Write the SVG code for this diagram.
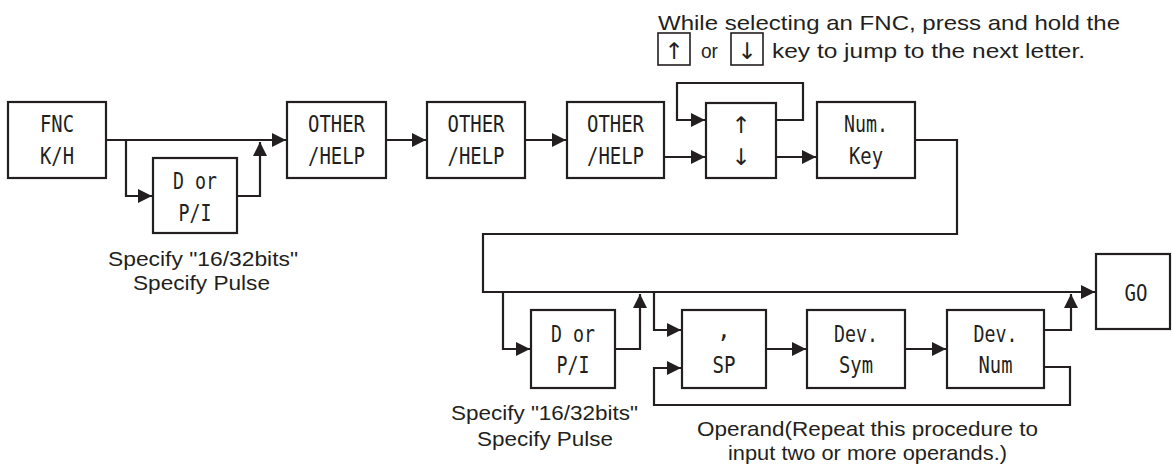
<svg xmlns="http://www.w3.org/2000/svg" width="1172" height="467" viewBox="0 0 1172 467">
<style>
.box{fill:#fff;stroke:#231f20;stroke-width:2.2}
.bt{font-family:"DejaVu Sans Mono","Liberation Mono",monospace;font-size:23px;fill:#231f20;text-anchor:middle}
.an{font-family:"Liberation Sans",Arial,sans-serif;font-size:21px;fill:#231f20}
.c{fill:none;stroke:#231f20;stroke-width:2.2}
.k{fill:#fff;stroke:#231f20;stroke-width:1.6}
.ar{font-family:"DejaVu Sans",sans-serif;font-size:23px;fill:#231f20;text-anchor:middle}
</style>
<defs>
<marker id="ah" markerUnits="userSpaceOnUse" markerWidth="15" markerHeight="15" refX="14" refY="7" orient="auto">
<path d="M0,0 L14,7 L0,14 z" fill="#231f20"/>
</marker>
</defs>
<rect width="1172" height="467" fill="#fff"/>
<g id="connectors">
<path class="c" d="M106,140 H286" marker-end="url(#ah)"/>
<path class="c" d="M126,140 V196 H152" marker-end="url(#ah)"/>
<path class="c" d="M237,196 H260 V142" marker-end="url(#ah)"/>
<path class="c" d="M386,140 H426" marker-end="url(#ah)"/>
<path class="c" d="M525,140 H566" marker-end="url(#ah)"/>
<path class="c" d="M664,157 H705" marker-end="url(#ah)"/>
<path class="c" d="M776,120 H803 V83 H677 V120 H705" marker-end="url(#ah)"/>
<path class="c" d="M776,157 H816" marker-end="url(#ah)"/>
<path class="c" d="M915,140 H957 V234 H483 V292 H1095" marker-end="url(#ah)"/>
<path class="c" d="M503,292 V349 H530" marker-end="url(#ah)"/>
<path class="c" d="M615,349 H640 V294" marker-end="url(#ah)"/>
<path class="c" d="M654,292 V330 H681" marker-end="url(#ah)"/>
<path class="c" d="M766,349 H806" marker-end="url(#ah)"/>
<path class="c" d="M905,349 H946" marker-end="url(#ah)"/>
<path class="c" d="M1044,330 H1071 V294" marker-end="url(#ah)"/>
<path class="c" d="M1044,367 H1070 V405 H654 V368 H681" marker-end="url(#ah)"/>
</g>
<g id="fnc">
<rect class="box" x="8" y="102" width="98" height="76"/>
<text class="bt" x="57" y="132" textLength="34" lengthAdjust="spacingAndGlyphs">FNC</text>
<text class="bt" x="57" y="164" textLength="34" lengthAdjust="spacingAndGlyphs">K/H</text>
</g>
<g id="dorpi1">
<rect class="box" x="153" y="158" width="84" height="75"/>
<text class="bt" x="195" y="189" textLength="44" lengthAdjust="spacingAndGlyphs">D or</text>
<text class="bt" x="195" y="221" textLength="33" lengthAdjust="spacingAndGlyphs">P/I</text>
</g>
<g id="other1">
<rect class="box" x="287" y="102" width="99" height="76"/>
<text class="bt" x="336.5" y="132" textLength="57" lengthAdjust="spacingAndGlyphs">OTHER</text>
<text class="bt" x="336.5" y="164" textLength="57" lengthAdjust="spacingAndGlyphs">/HELP</text>
</g>
<g id="other2">
<rect class="box" x="427" y="102" width="98" height="76"/>
<text class="bt" x="476" y="132" textLength="57" lengthAdjust="spacingAndGlyphs">OTHER</text>
<text class="bt" x="476" y="164" textLength="57" lengthAdjust="spacingAndGlyphs">/HELP</text>
</g>
<g id="other3">
<rect class="box" x="567" y="102" width="97" height="76"/>
<text class="bt" x="615.5" y="132" textLength="57" lengthAdjust="spacingAndGlyphs">OTHER</text>
<text class="bt" x="615.5" y="164" textLength="57" lengthAdjust="spacingAndGlyphs">/HELP</text>
</g>
<g id="updown">
<rect class="box" x="706" y="103" width="70" height="75"/>
<text class="ar" x="741" y="133">↑</text>
<text class="ar" x="741" y="165">↓</text>
</g>
<g id="numkey">
<rect class="box" x="817" y="102" width="98" height="76"/>
<text class="bt" x="866" y="132" textLength="44" lengthAdjust="spacingAndGlyphs">Num.</text>
<text class="bt" x="866" y="164" textLength="34" lengthAdjust="spacingAndGlyphs">Key</text>
</g>
<g id="dorpi2">
<rect class="box" x="531" y="310" width="84" height="78"/>
<text class="bt" x="573" y="342" textLength="44" lengthAdjust="spacingAndGlyphs">D or</text>
<text class="bt" x="573" y="373" textLength="33" lengthAdjust="spacingAndGlyphs">P/I</text>
</g>
<g id="sp">
<rect class="box" x="682" y="310" width="84" height="78"/>
<text class="bt" x="724" y="338">,</text>
<text class="bt" x="724" y="373" textLength="23" lengthAdjust="spacingAndGlyphs">SP</text>
</g>
<g id="devsym">
<rect class="box" x="807" y="310" width="98" height="78"/>
<text class="bt" x="856" y="342" textLength="44" lengthAdjust="spacingAndGlyphs">Dev.</text>
<text class="bt" x="856" y="373" textLength="34" lengthAdjust="spacingAndGlyphs">Sym</text>
</g>
<g id="devnum">
<rect class="box" x="947" y="310" width="97" height="78"/>
<text class="bt" x="995.5" y="342" textLength="44" lengthAdjust="spacingAndGlyphs">Dev.</text>
<text class="bt" x="995.5" y="373" textLength="34" lengthAdjust="spacingAndGlyphs">Num</text>
</g>
<g id="go">
<rect class="box" x="1096" y="254" width="74" height="75"/>
<text class="bt" x="1136" y="301" textLength="23" lengthAdjust="spacingAndGlyphs">GO</text>
</g>
<g id="notes">
<text class="an" x="658" y="30" textLength="462" lengthAdjust="spacingAndGlyphs">While selecting an FNC, press and hold the</text>
<rect class="k" x="658" y="33" width="32" height="32"/>
<text class="ar" x="674" y="59">↑</text>
<text class="an" x="701" y="58" textLength="17" lengthAdjust="spacingAndGlyphs">or</text>
<rect class="k" x="731" y="33" width="32" height="32"/>
<text class="ar" x="747" y="59">↓</text>
<text class="an" x="772" y="58" textLength="313" lengthAdjust="spacingAndGlyphs">key to jump to the next letter.</text>
<text class="an" x="108" y="266" textLength="190" lengthAdjust="spacingAndGlyphs">Specify "16/32bits"</text>
<text class="an" x="133" y="290" textLength="137" lengthAdjust="spacingAndGlyphs">Specify Pulse</text>
<text class="an" x="451" y="420" textLength="187" lengthAdjust="spacingAndGlyphs">Specify "16/32bits"</text>
<text class="an" x="477" y="446" textLength="136" lengthAdjust="spacingAndGlyphs">Specify Pulse</text>
<text class="an" x="697" y="436" textLength="341" lengthAdjust="spacingAndGlyphs">Operand(Repeat this procedure to</text>
<text class="an" x="728" y="460" textLength="279" lengthAdjust="spacingAndGlyphs">input two or more operands.)</text>
</g>
</svg>
